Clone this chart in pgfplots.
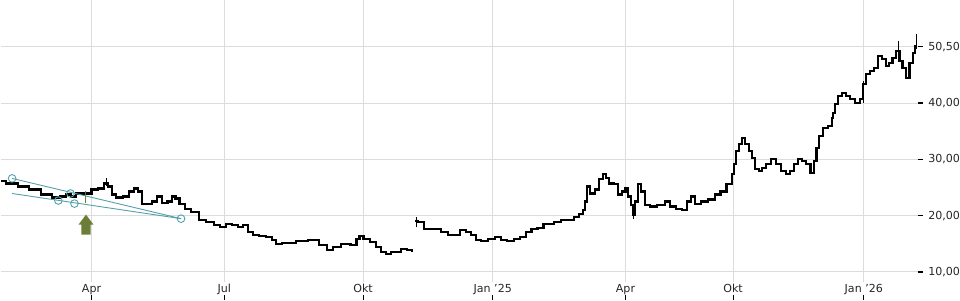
\documentclass[border=0pt]{standalone}
\usepackage{fontspec}
\setmainfont{DejaVu Sans}
\usepackage{pgfplots}
\pgfplotsset{compat=1.18}
\definecolor{gridc}{RGB}{220,220,220}
\definecolor{teal2}{RGB}{86,160,172}
\definecolor{olive2}{RGB}{106,126,56}
\pgfdeclareplotmark{uparrow}{%
 \pgfpathmoveto{\pgfpoint{-7.5pt}{0pt}}%
 \pgfpathlineto{\pgfpoint{0pt}{10pt}}%
 \pgfpathlineto{\pgfpoint{7.5pt}{0pt}}%
 \pgfpathlineto{\pgfpoint{4.5pt}{0pt}}%
 \pgfpathlineto{\pgfpoint{4.5pt}{-10pt}}%
 \pgfpathlineto{\pgfpoint{-4.5pt}{-10pt}}%
 \pgfpathlineto{\pgfpoint{-4.5pt}{0pt}}%
 \pgfpathclose
 \pgfusepathqfill}
\begin{document}
\begin{tikzpicture}
\begin{axis}[
 scale only axis, width=912pt, height=298pt,
 xmin=0, xmax=912, ymin=5, ymax=58.21,
 clip=false,
 axis x line*=bottom, axis y line*=right,
 axis line style={draw=none},
 major tick length=0pt,
 xtick={90,222,360,489,621,728,858},
 xticklabels={Apr,Jul,Okt,Jan '25,Apr,Okt,Jan '26},
 ytick={10,20,30,40,50},
 yticklabels={{10,00},{20,00},{30,00},{40,00},{50,50}},
 ymajorgrids, grid style={gridc, line width=0.9pt},
 xticklabel style={anchor=base, inner sep=0pt, yshift=8pt, font=\fontsize{11}{13}\selectfont, text=black!85},
 yticklabel style={anchor=west, inner sep=0pt, xshift=10pt, font=\fontsize{11}{13}\selectfont, text=black!85},
]
% vertical grid lines
\foreach \gx in {90,222,360,489,621,728,858}{
 \edef\tmp{\noexpand\addplot[gridc, line width=0.9pt, forget plot] coordinates {(\gx,8.21) (\gx,58.21)};}\tmp
 \edef\tmp{\noexpand\addplot[black, line width=1pt, forget plot] coordinates {(\gx,5) (\gx,5.9)};}\tmp
}
% y tick dashes
\foreach \gy in {10,20,30,40,50}{
 \edef\tmp{\noexpand\addplot[black, line width=1.2pt, forget plot] coordinates {(912,\gy) (917,\gy)};}\tmp
}
% price, segment 1
\addplot[black, line width=2.1pt, const plot mark mid] coordinates {
(0,26.07) (10,25.71) (23,25.18) (33,24.64) (47,23.75) (55,23.21) (62,23.39) (67,23.75) (72,23.39) (77,23.93) (82,23.93) (87,23.93) (93,24.64) (100,24.82) (105,25.71) (108,25.18) (112,23.75) (117,23.21) (125,23.39) (130,24.29) (135,24.82) (138,24.29) (142,22.14) (147,22.14) (153,22.50) (158,23.39) (163,22.32) (168,22.50) (172,23.39) (175,23.04) (180,22.14) (185,21.25) (193,20.71) (200,19.29) (208,18.93) (215,18.39) (220,18.04) (227,18.57) (233,18.39) (238,18.04) (243,18.39) (248,17.14) (253,16.61) (260,16.43) (267,16.25) (272,15.71) (275,15.00) (283,15.18) (290,15.18) (297,15.54) (303,15.54) (307,15.71) (313,15.71) (320,14.82) (328,13.93) (333,14.46) (343,15.00) (352,14.82) (355,15.89) (358,16.43) (363,15.89) (370,15.36) (375,14.46) (380,13.57) (385,13.21) (390,13.57) (395,13.57) (400,14.11) (407,13.93) (410,13.75)
};
% price, segment 2
\addplot[black, line width=2.1pt, const plot mark mid] coordinates {
(412,19.11) (418,18.93) (423,17.68) (433,17.68) (442,17.14) (447,16.61) (453,16.61) (460,17.50) (465,17.14) (470,16.61) (475,15.71) (480,15.54) (488,15.89) (495,16.25) (500,15.71) (507,15.54) (513,15.89) (520,16.25) (525,17.14) (530,17.68) (537,17.86) (542,18.57) (547,18.57) (553,18.93) (560,19.29) (567,19.29) (572,19.82) (577,20.36) (580,21.07) (582,22.50) (583,25.18) (588,23.93) (593,24.64) (597,26.43) (600,27.32) (603,26.61) (607,25.71) (612,25.54) (615,23.75) (620,24.29) (622,24.82) (625,23.39) (628,21.96) (629,20.18) (632,22.50) (635,25.54) (638,24.29) (642,21.96) (648,21.61) (657,21.96) (663,22.50) (668,21.61) (675,21.25) (680,21.07) (685,22.50) (688,23.39) (693,22.14) (700,22.50) (707,22.86) (713,23.75) (718,24.29) (725,25.54) (728,27.32) (730,29.11) (732,31.43) (735,32.68) (738,33.75) (742,32.68) (745,31.43) (748,30.18) (752,28.21) (755,27.86) (758,28.39) (763,29.11) (768,30.00) (773,29.11) (778,27.86) (783,27.32) (787,27.86) (790,29.11) (795,30.00) (798,29.64) (803,29.11) (807,27.50) (810,29.64) (812,31.96) (815,34.11) (820,35.54) (825,35.89) (827,37.32) (828,38.21) (830,39.82) (835,41.25) (838,41.79) (842,41.25) (847,40.71) (852,40.00) (857,40.71) (858,43.39) (862,45.18) (867,45.71) (870,46.25) (875,48.39) (878,47.86) (882,46.61) (885,47.14) (888,48.04) (892,49.29) (895,47.50) (898,46.25) (902,44.46) (905,47.14) (908,48.93) (910,50.18)
};
% wicks
\addplot[black, line width=0.8pt] coordinates {(105,25.2) (105,26.6)};
\addplot[black, line width=0.8pt] coordinates {(413,17.9) (413,19.8)};
\addplot[black, line width=0.8pt] coordinates {(629,19.4) (629,22.0)};
\addplot[black, line width=0.8pt] coordinates {(827,35.9) (827,38.4)};
\addplot[black, line width=0.8pt] coordinates {(892,48.5) (892,51.0)};
\addplot[black, line width=0.8pt] coordinates {(910,49.6) (910,52.3)};
\addplot[black, line width=0.8pt] coordinates {(858,40.0) (858,43.9)};
% trend lines
\addplot[teal2, line width=0.9pt] coordinates {(11,26.61) (179,19.46)};
\addplot[teal2, line width=0.9pt] coordinates {(11,23.93) (179,19.46)};
\addplot[teal2, line width=0.9pt, only marks, mark=o, mark size=3.8pt, mark options={fill=none}] coordinates {(11,26.61) (69,23.93) (57,22.68) (73,22.14) (179,19.46)};
% signal
\addplot[olive2, line width=1.3pt] coordinates {(84.3,22.3) (84.3,24.3)};
\addplot[olive2, only marks, mark=uparrow] coordinates {(84.5,18.39)};
\end{axis}
\end{tikzpicture}
\end{document}
